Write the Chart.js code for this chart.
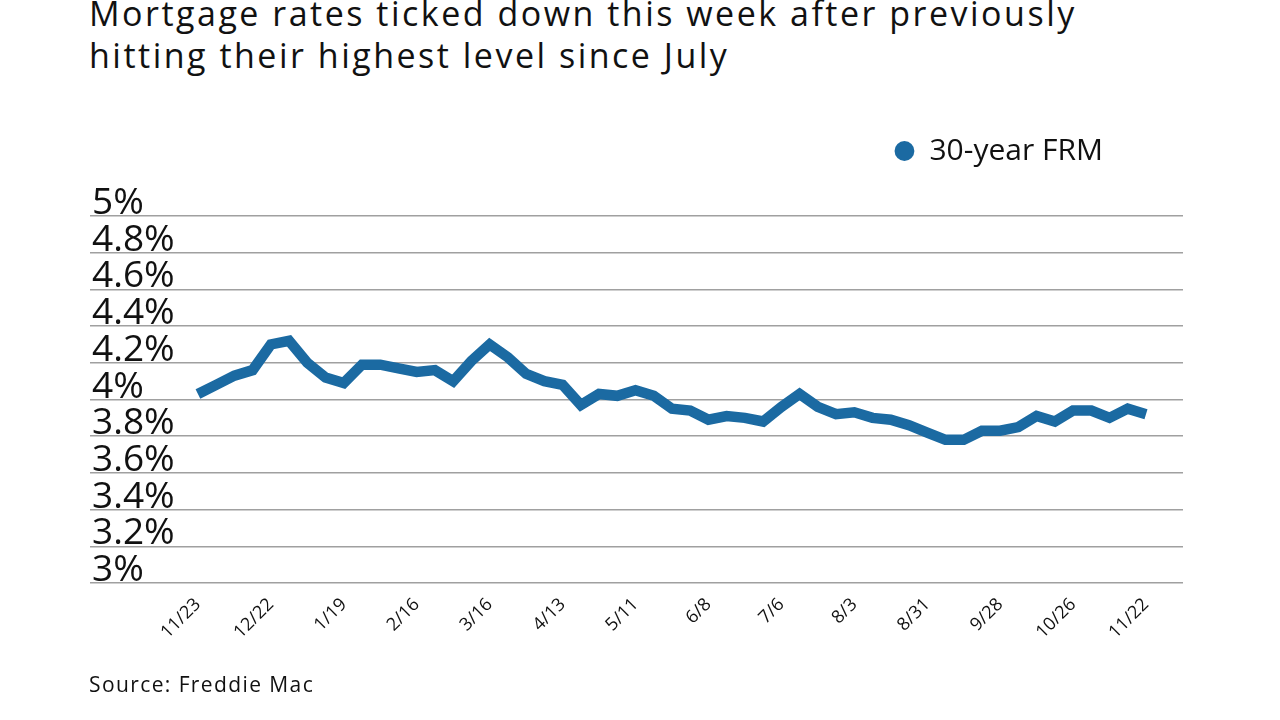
<!DOCTYPE html>
<html>
<head>
<meta charset="utf-8">
<script src="https://cdn.jsdelivr.net/npm/chart.js@4.4.1/dist/chart.umd.min.js"></script>
<style>
    body { margin: 0; width: 1280px; height: 720px; background: #fff; position: relative; overflow: hidden; font-family: "Open Sans", Lato, sans-serif; color: #111; }
    #title { position: absolute; left: 89px; top: -8px; font-size: 34px; line-height: 42px; font-weight: 400; letter-spacing: 2.5px; white-space: nowrap; }
    #chartBox { position: absolute; left: 0; top: 0; width: 1280px; height: 720px; }
    #source { position: absolute; left: 89px; top: 674px; font-size: 21px; line-height: 21px; letter-spacing: 1.4px; }
</style>
</head>
<body>
<div id="title">Mortgage rates ticked down this week after previously<br>hitting their highest level since July</div>
<div id="chartBox"><canvas id="rateChart"></canvas></div>
<div id="source">Source: Freddie Mac</div>

<script>
// weekly dates, 11/23 to 11/22
const weeks = ["11/23", "12/1", "12/8", "12/15", "12/22", "12/29", "1/5", "1/12", "1/19", "1/26",
    "2/2", "2/9", "2/16", "2/23", "3/2", "3/9", "3/16", "3/23", "3/30", "4/6",
    "4/13", "4/20", "4/27", "5/4", "5/11", "5/18", "5/25", "6/1", "6/8", "6/15",
    "6/22", "6/29", "7/6", "7/13", "7/20", "7/27", "8/3", "8/10", "8/17", "8/24",
    "8/31", "9/7", "9/14", "9/21", "9/28", "10/5", "10/12", "10/19", "10/26", "11/2",
    "11/9", "11/16", "11/22"];

// 30-year fixed rate, percent
const frm30 = [4.03, 4.08, 4.13, 4.16, 4.30, 4.32, 4.20, 4.12, 4.09, 4.19,
    4.19, 4.17, 4.15, 4.16, 4.10, 4.21, 4.30, 4.23, 4.14, 4.10,
    4.08, 3.97, 4.03, 4.02, 4.05, 4.02, 3.95, 3.94, 3.89, 3.91,
    3.90, 3.88, 3.96, 4.03, 3.96, 3.92, 3.93, 3.90, 3.89, 3.86,
    3.82, 3.78, 3.78, 3.83, 3.83, 3.85, 3.91, 3.88, 3.94, 3.94,
    3.90, 3.95, 3.92];

// every 4th week gets a label on the x axis
const xTickIndex = [0, 4, 8, 12, 16, 20, 24, 28, 32, 36, 40, 44, 48, 52];

const seriesName = "30-year FRM";
const lineColor = "#1b6aa2";
const gridColor = "#a0a0a0";
const fontName = "Open Sans";

let points = frm30.map((v, i) => ({ x: i, y: v }));

let ctx = document.getElementById("rateChart").getContext("2d");
let rateChart = new Chart(ctx, {
    type: "line",
    data: {
        datasets: [{
            label: seriesName,
            data: points,
            xAxisID: "x",
            yAxisID: "y",
            borderColor: lineColor,
            backgroundColor: lineColor,
            borderWidth: 10.5,
            borderJoinStyle: "miter",
            pointRadius: 0,
            pointHoverRadius: 0,
            pointStyle: "circle",
            tension: 0
        }]
    },
    options: {
        responsive: true,
        maintainAspectRatio: false,
        animation: false,
        layout: {
            padding: { left: 90, right: 97, top: 56, bottom: 0 }
        },
        plugins: {
            tooltip: { enabled: false },
            legend: {
                position: "top",
                align: "end",
                labels: {
                    usePointStyle: true,
                    boxWidth: 20,
                    boxHeight: 14,
                    padding: 80,
                    color: "#111",
                    font: { family: fontName, size: 30 },
                    generateLabels: chart => Chart.defaults.plugins.legend.labels.generateLabels(chart)
                        .map(item => Object.assign(item, { lineWidth: 0 }))
                }
            }
        },
        scales: {
            // empty band between legend and plot
            gap: {
                type: "category",
                position: "top",
                grid: { display: false },
                border: { display: false },
                ticks: { display: false },
                afterFit: scale => { scale.height = 40; }
            },
            x: {
                type: "linear",
                min: -5.92,
                max: 54.03,
                grid: { display: false },
                border: { display: false },
                afterBuildTicks: scale => {
                    scale.ticks = xTickIndex.map(i => ({ value: i }));
                },
                afterFit: scale => { scale.height = 137; },
                ticks: {
                    autoSkip: false,
                    minRotation: 45,
                    maxRotation: 45,
                    padding: 3,
                    color: "#111",
                    font: { family: fontName, size: 18 },
                    callback: value => weeks[value]
                }
            },
            y: {
                min: 3,
                max: 5,
                grid: { color: gridColor, lineWidth: 1.5, drawTicks: false },
                border: { display: false },
                afterFit: scale => { scale.width = 0; },
                ticks: {
                    stepSize: 0.2,
                    autoSkip: false,
                    mirror: true,
                    align: "end",
                    labelOffset: 6,
                    padding: 2,
                    color: "#111",
                    font: { family: fontName, size: 37 },
                    callback: value => parseFloat(value.toFixed(1)) + "%"
                }
            }
        }
    }
});
</script>
</body>
</html>
